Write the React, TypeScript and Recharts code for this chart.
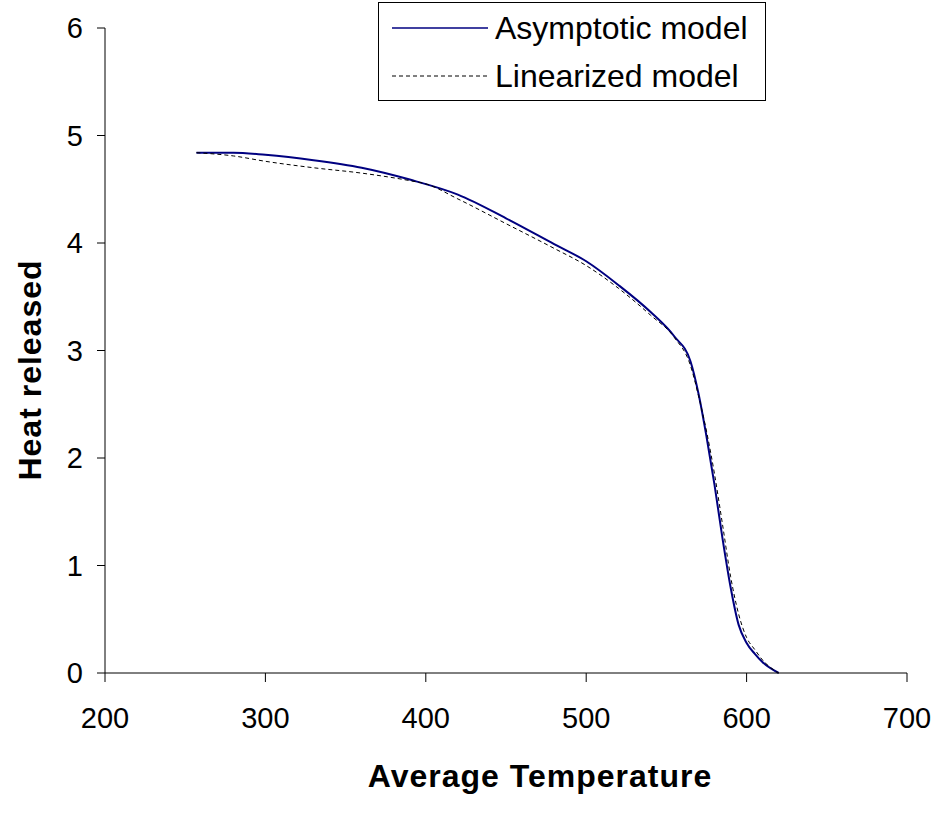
import { LineChart, Line, XAxis, YAxis, Label } from 'recharts'

const asymTemp = [257, 280, 300, 330, 360, 390, 420, 450, 480, 500, 520, 540, 555, 565, 570, 575, 580, 585, 590, 595, 600, 605, 610, 620]
const asymHeat = [4.84, 4.84, 4.82, 4.77, 4.7, 4.59, 4.45, 4.23, 3.99, 3.83, 3.61, 3.36, 3.13, 2.9, 2.6, 2.2, 1.75, 1.25, 0.8, 0.45, 0.28, 0.18, 0.1, 0]

const linTemp = [257, 280, 300, 330, 360, 390, 400, 420, 450, 480, 500, 520, 540, 555, 565, 570, 575, 580, 585, 590, 595, 600, 605, 610, 620]
const linHeat = [4.84, 4.81, 4.76, 4.7, 4.65, 4.58, 4.55, 4.41, 4.18, 3.95, 3.79, 3.58, 3.33, 3.12, 2.86, 2.58, 2.25, 1.85, 1.38, 0.9, 0.55, 0.33, 0.22, 0.12, 0]

const xTicks = [200, 300, 400, 500, 600, 700]
const yTicks = [0, 1, 2, 3, 4, 5, 6]

const asymData = asymTemp.map((t, i) => ({ t, heat: asymHeat[i] }))
const linData = linTemp.map((t, i) => ({ t, heat: linHeat[i] }))

const FONT = '"Liberation Sans", Arial, sans-serif'

function LegendBox() {
  return (
    <div
      style={{
        position: 'absolute',
        left: 378,
        top: 2,
        width: 388,
        height: 99,
        border: '1px solid #000',
        background: '#fff',
        fontFamily: FONT,
        fontSize: 32,
        color: '#000',
        boxSizing: 'border-box',
      }}
    >
      <div style={{ display: 'flex', alignItems: 'center', height: 50 }}>
        <svg width={116} height={10}>
          <line x1={13} y1={5} x2={109} y2={5} stroke="#000080" strokeWidth={1.5} />
        </svg>
        <span>Asymptotic model</span>
      </div>
      <div style={{ display: 'flex', alignItems: 'center', height: 46 }}>
        <svg width={116} height={10}>
          <line x1={13} y1={5} x2={109} y2={5} stroke="#000" strokeWidth={1} strokeDasharray="4 3" />
        </svg>
        <span>Linearized model</span>
      </div>
    </div>
  )
}

export default function App() {
  return (
    <div style={{ position: 'absolute', left: 0, top: 0, width: 940, height: 825, background: '#fff' }}>
      <LineChart width={940} height={825} margin={{ top: 28, right: 33, left: 0, bottom: 0 }}>
        <XAxis
          type="number"
          dataKey="t"
          domain={[200, 700]}
          ticks={xTicks}
          allowDataOverflow
          height={152}
          tickSize={9}
          tickMargin={25}
          stroke="#000"
          tick={{ fill: '#000', fontSize: 29, fontFamily: FONT }}
        >
          <Label
            content={() => (
              <text x={540} y={787} textAnchor="middle" fontFamily={FONT} fontSize={32} fontWeight="bold" letterSpacing={1} fill="#000">
                Average Temperature
              </text>
            )}
          />
        </XAxis>
        <YAxis
          type="number"
          domain={[0, 6]}
          ticks={yTicks}
          width={105}
          tickSize={8}
          tickMargin={14}
          stroke="#000"
          tick={{ fill: '#000', fontSize: 29, fontFamily: FONT }}
        >
          <Label
            content={() => (
              <text
                x={41}
                y={370}
                transform="rotate(-90 41 370)"
                textAnchor="middle"
                fontFamily={FONT}
                fontSize={32}
                fontWeight="bold"
                letterSpacing={1}
                fill="#000"
              >
                Heat released
              </text>
            )}
          />
        </YAxis>
        <Line
          data={asymData}
          dataKey="heat"
          name="Asymptotic model"
          type="monotone"
          stroke="#000080"
          strokeWidth={2}
          dot={false}
          isAnimationActive={false}
        />
        <Line
          data={linData}
          dataKey="heat"
          name="Linearized model"
          type="monotone"
          stroke="#000"
          strokeWidth={1}
          strokeDasharray="4 3"
          dot={false}
          isAnimationActive={false}
        />
      </LineChart>
      <LegendBox />
    </div>
  )
}
